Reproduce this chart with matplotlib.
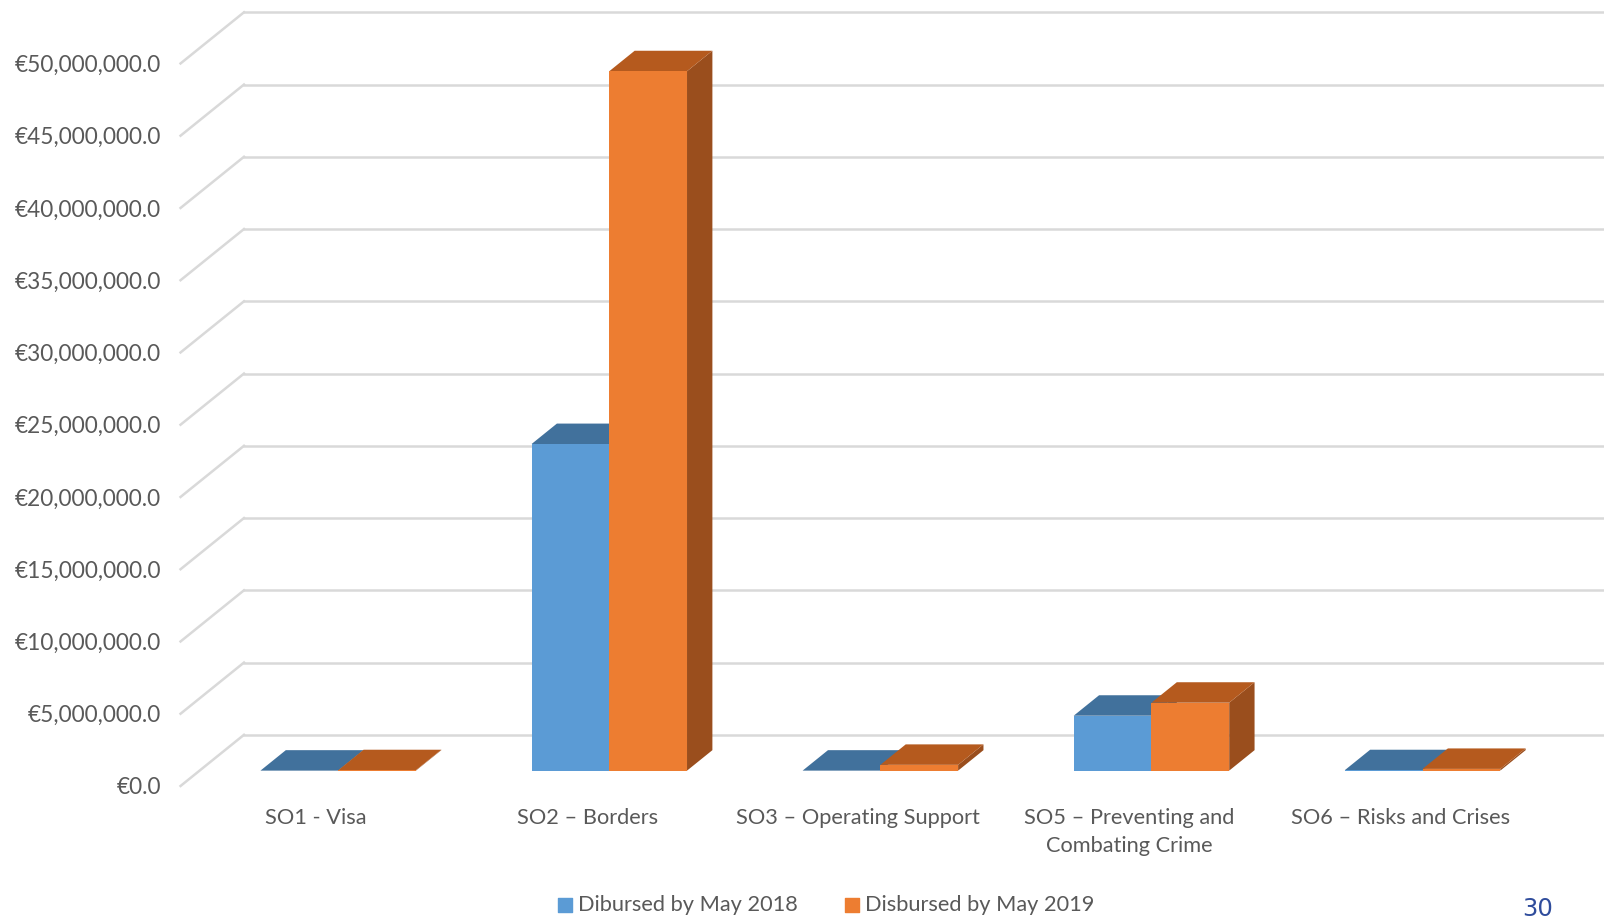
import matplotlib.pyplot as plt
from matplotlib.patches import Polygon
from matplotlib.ticker import FuncFormatter

categories = ['SO1 - Visa', 'SO2 – Borders', 'SO3 – Operating Support',
              'SO5 – Preventing and\nCombating Crime', 'SO6 – Risks and Crises']
disbursed_2018 = [0.0, 22600000.0, 0.0, 3800000.0, 30000.0]
disbursed_2019 = [30000.0, 48400000.0, 400000.0, 4700000.0, 120000.0]
series_names = ['Dibursed by May 2018', 'Disbursed by May 2019']
y_ticks = list(range(0, 50000001, 5000000))

# face colours: front, top, side
blue = ('#5B9BD5', '#41719C', '#3B6891')
orange = ('#ED7D31', '#B55A1E', '#9A4E1D')
grid_col = '#D9D9D9'
text_col = '#595959'

plt.rcParams['font.family'] = ['Lato', 'DejaVu Sans']

fig = plt.figure(figsize=(16.04, 9.18), dpi=100)
# layout measured on a 1568 x 897 view of the slide
W, H = 1568.0, 897.0
left, right, bottom, top = 176.5, 1501.5, 768, 62   # front plane of the chart
ax = fig.add_axes([left / W, (H - bottom) / H, (right - left) / W, (bottom - top) / H])
ax.set_xlim(-0.5, 4.5)
ax.set_ylim(0, 50000000)

px_x = 5.0 / (right - left)          # category units per pixel
px_y = 50000000.0 / (bottom - top)   # euros per pixel
DX, DY = 62 * px_x, 50 * px_y        # floor depth
x_end = 4.5 + (W - right) * px_x

# walls
for v in y_ticks:
    ax.plot([-0.5, -0.5 + DX], [v, v + DY], color=grid_col, lw=1.8, clip_on=False, zorder=1)
    ax.plot([-0.5 + DX, x_end], [v + DY, v + DY], color=grid_col, lw=1.8, clip_on=False, zorder=1)

# bars sit between 30% and 70% of the floor depth
bw = 76 * px_x
y0 = 0.3 * DY
sx = 0.3 * DX + 3 * px_x
bx, by = 0.4 * DX, 0.4 * DY


def draw_bar(x0, v, cols, z):
    front, topc, side = cols
    xs = [x0, x0 + bw]
    ax.add_patch(Polygon([(x0 + bw, y0), (x0 + bw, y0 + v), (x0 + bw + bx, y0 + v + by),
                          (x0 + bw + bx, y0 + by)], closed=True, fc=side, ec='none',
                         clip_on=False, zorder=z))
    ax.add_patch(Polygon([(x0, y0 + v), (x0 + bw, y0 + v), (x0 + bw + bx, y0 + v + by),
                          (x0 + bx, y0 + v + by)], closed=True, fc=topc, ec='none',
                         clip_on=False, zorder=z))
    ax.fill_between(xs, [y0, y0], [y0 + v, y0 + v], color=front, lw=0, zorder=z + 0.1)


for i in range(len(categories)):
    c = i + sx
    draw_bar(c - bw, disbursed_2018[i], blue, 3 + i)
    draw_bar(c, disbursed_2019[i], orange, 3.5 + i)

for s in ax.spines.values():
    s.set_visible(False)

ax.set_yticks(y_ticks)
ax.yaxis.set_major_formatter(FuncFormatter(lambda v, p: '€{:,.1f}'.format(v)))
ax.tick_params(axis='y', length=0, pad=14, labelsize=16.3, labelcolor=text_col)
ax.set_xticks(range(len(categories)))
ax.set_xticklabels(categories, linespacing=1.55)
ax.tick_params(axis='x', length=0, pad=15.5, labelsize=15.7, labelcolor=text_col)

# legend
ax.scatter([], [], marker='s', s=115, color=blue[0], label=series_names[0])
ax.scatter([], [], marker='s', s=115, color=orange[0], label=series_names[1])
fig.legend(loc='center', bbox_to_anchor=(806 / W, 1 - 884 / H), ncol=2, frameon=False,
           fontsize=15.7, labelcolor=text_col, handletextpad=0.1, columnspacing=2.0,
           handlelength=1.0)

fig.text(1503 / W, 1 - 888 / H, '30', fontsize=17.5, color='#2F4C9C', ha='center', va='center',
         family='DejaVu Sans')

fig.savefig('out.png', dpi=100)
